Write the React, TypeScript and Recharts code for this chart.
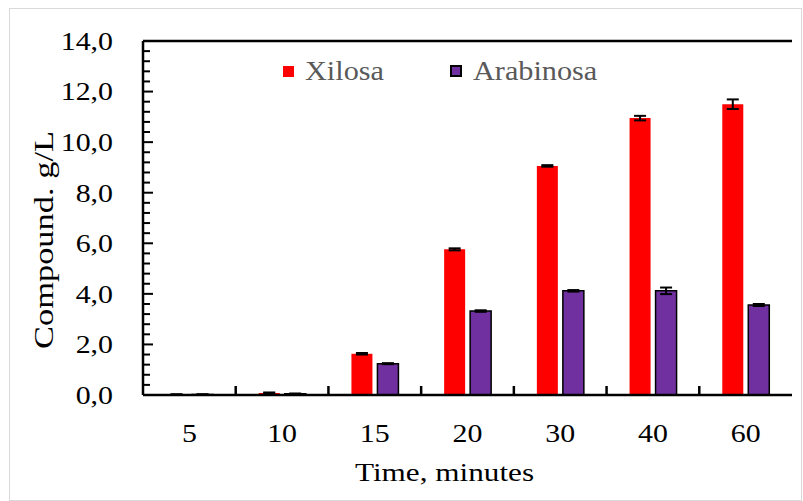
import { BarChart, Bar, XAxis, YAxis, ErrorBar, Legend, ReferenceLine } from 'recharts';

const times = ['5', '10', '15', '20', '30', '40', '60'];
const xilosa = [0.02, 0.08, 1.63, 5.76, 9.06, 10.95, 11.5];
const xilosaErr = [0.01, 0.02, 0.03, 0.04, 0.03, 0.09, 0.19];
const arabinosa = [0.02, 0.05, 1.24, 3.32, 4.12, 4.12, 3.56];
const arabinosaErr = [0.01, 0.01, 0.02, 0.03, 0.03, 0.13, 0.04];
const yMajorTicks = [0, 2, 4, 6, 8, 10, 12, 14];
const seriesNames = ['Xilosa', 'Arabinosa'];

const FONT = '"Liberation Serif", "Times New Roman", serif';
const RED = '#FF0000';
const PURPLE = '#7030A0';

const TOP = 41;
const PLOT_H = 354;
const MINOR_PER_MAJOR = 5;

const data = times.map((t, i) => ({
  time: t,
  xilosa: xilosa[i],
  xilosaErr: xilosaErr[i],
  arabinosa: arabinosa[i],
  arabinosaErr: arabinosaErr[i],
}));

const fmt = (v: number) => v.toFixed(1).replace('.', ',');

// major tick + label, and the four minor ticks above it (inside the plot)
function YTick(props: any) {
  const { x, y, payload } = props;
  const v = payload.value;
  const yMax = yMajorTicks[yMajorTicks.length - 1];
  const stepPx = (PLOT_H / yMax) * (2 / MINOR_PER_MAJOR);
  const minors = [];
  if (v < yMax) {
    for (let k = 1; k < MINOR_PER_MAJOR; k++) {
      const yy = y - k * stepPx;
      minors.push(<path key={k} d={`M${x},${yy}H${x + 7}`} stroke="#000" strokeWidth={2} fill="none" />);
    }
  }
  return (
    <g>
      <path d={`M${x},${y}H${x + 10}`} stroke="#000" strokeWidth={2} fill="none" />
      {minors}
      <text
        transform={`translate(${x - 30},${y}) scale(1.15,1)`}
        textAnchor="end"
        dy="0.34em"
        fontSize={26}
        fontFamily={FONT}
        fill="#000"
      >
        {fmt(v)}
      </text>
    </g>
  );
}

function XTick(props: any) {
  const { x, y, payload, index } = props;
  const half = payload.offset ?? 46.4;
  return (
    <g>
      {index < times.length - 1 && (
        <line x1={x + half} x2={x + half} y1={y} y2={y - 9} stroke="#000" strokeWidth={2.5} />
      )}
      <text
        transform={`translate(${x},${y + 47}) scale(1.15,1)`}
        textAnchor="middle"
        fontSize={26}
        fontFamily={FONT}
        fill="#000"
      >
        {payload.value}
      </text>
    </g>
  );
}

const XTitle = (props: any) => {
  const vb = props.viewBox;
  const cx = vb.x + vb.width / 2 - 23;
  return (
    <text
      transform={`translate(${cx},${vb.y + 86}) scale(1.2,1)`}
      textAnchor="middle"
      fontSize={26}
      fontFamily={FONT}
      fill="#000"
    >
      Time, minutes
    </text>
  );
};

const YTitle = (props: any) => {
  const vb = props.viewBox;
  const cx = vb.x + 44;
  const cy = vb.y + vb.height / 2 + 22;
  return (
    <text
      x={cx}
      y={cy}
      transform={`rotate(-90, ${cx}, ${cy})`}
      textAnchor="middle"
      dominantBaseline="central"
      fontSize={27}
      fontFamily={FONT}
      textLength={218}
      lengthAdjust="spacingAndGlyphs"
      fill="#000"
    >
      Compound. g/L
    </text>
  );
};

const renderLegend = () => (
  <div style={{ display: 'flex', alignItems: 'center', height: 28, fontFamily: FONT }}>
    {seriesNames.map((name, i) => {
      const isArab = i === 1;
      return (
        <div key={name} style={{ display: 'flex', alignItems: 'center', marginLeft: i === 0 ? 0 : 71 }}>
          <span
            style={{
              display: 'inline-block',
              boxSizing: 'border-box',
              width: isArab ? 12 : 11,
              height: isArab ? 12 : 11,
              background: isArab ? PURPLE : RED,
              border: isArab ? '2px solid #000' : 'none',
            }}
          />
          <span
            style={{
              display: 'inline-block',
              marginLeft: 11,
              fontSize: 27,
              lineHeight: '28px',
              color: '#595959',
              transform: 'scaleX(1.12)',
              transformOrigin: 'left center',
              width: isArab ? 114 : 74,
            }}
          >
            {name}
          </span>
        </div>
      );
    })}
  </div>
);

export default function App() {
  return (
    <div style={{ position: 'absolute', left: 0, top: 0, width: 803, height: 501, background: '#fff' }}>
      <div
        style={{
          position: 'absolute',
          left: 9,
          top: 8,
          width: 791,
          height: 491,
          border: '1px solid #d9d9d9',
        }}
      />
      <div style={{ position: 'absolute', left: 0, top: 0 }}>
        <BarChart
          width={803}
          height={501}
          data={data}
          margin={{ top: TOP, right: 11, bottom: 6, left: 0 }}
          barGap={5}
          barSize={21}
        >
          <XAxis
            dataKey="time"
            height={100}
            axisLine={{ stroke: '#000', strokeWidth: 2.5 }}
            tickLine={false}
            tickSize={0}
            tickMargin={0}
            interval={0}
            tick={<XTick />}
            label={{ value: 'Time, minutes', content: XTitle }}
          />
          <YAxis
            width={143}
            domain={[0, 14]}
            ticks={yMajorTicks}
            interval={0}
            axisLine={{ stroke: '#000', strokeWidth: 2.5 }}
            tickLine={false}
            tickSize={0}
            tickMargin={0}
            tick={<YTick />}
            label={{ value: 'Compound. g/L', content: YTitle }}
          />
          <YAxis
            yAxisId="right"
            orientation="right"
            width={0}
            domain={[0, 14]}
            tick={false}
            tickLine={false}
            axisLine={{ stroke: '#000', strokeWidth: 2.5 }}
          />
          <ReferenceLine y={14} stroke="#000" strokeWidth={2.5} />
          <Legend
            layout="horizontal"
            verticalAlign="middle"
            align="center"
            content={renderLegend}
            wrapperStyle={{ top: 57, left: 283, width: 'auto' }}
          />
          <Bar dataKey="xilosa" name={seriesNames[0]} fill={RED} isAnimationActive={false}>
            <ErrorBar dataKey="xilosaErr" width={6} stroke="#000" strokeWidth={2} />
          </Bar>
          <Bar
            dataKey="arabinosa"
            name={seriesNames[1]}
            fill={PURPLE}
            stroke="#000"
            strokeWidth={1.5}
            isAnimationActive={false}
          >
            <ErrorBar dataKey="arabinosaErr" width={6} stroke="#000" strokeWidth={2} />
          </Bar>
        </BarChart>
      </div>
    </div>
  );
}
